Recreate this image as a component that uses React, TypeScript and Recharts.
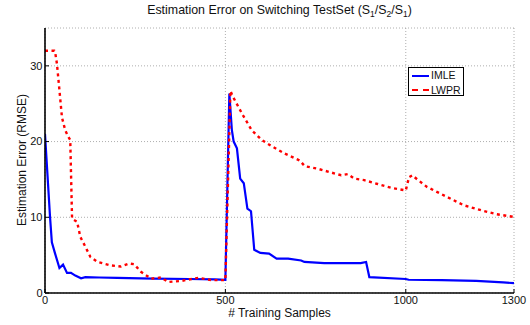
import React from 'react';
import { LineChart, Line, XAxis, YAxis, CartesianGrid } from 'recharts';

const imleX = [0, 14, 19, 28, 40, 50, 61, 72, 84, 100, 112, 150, 200, 300, 400, 470, 500, 511, 518, 523, 532, 541, 551, 561, 571, 580, 597, 621, 642, 674, 710, 719, 774, 875, 890, 899, 1000, 1008, 1100, 1195, 1270, 1300];
const imleY = [21, 10, 6.7, 5.2, 3.3, 3.75, 2.65, 2.65, 2.3, 1.95, 2.1, 2.05, 2.0, 1.9, 1.85, 1.8, 1.75, 26.35, 21.5, 20, 19.1, 15.1, 14.5, 11.15, 10.8, 5.7, 5.3, 5.2, 4.55, 4.55, 4.3, 4.1, 3.95, 3.95, 4.1, 2.1, 1.85, 1.75, 1.7, 1.6, 1.4, 1.3];

const lwprX = [0, 26, 28, 33, 40, 47, 56, 65, 70, 75, 89, 98, 112, 126, 146, 182, 210, 233, 247, 266, 294, 322, 342, 378, 425, 462, 500, 514, 520, 546, 573, 601, 628, 665, 706, 720, 757, 794, 821, 839, 858, 885, 922, 959, 1000, 1009, 1018, 1032, 1059, 1114, 1160, 1215, 1252, 1300];
const lwprY = [32, 32, 31.85, 30.3, 26.8, 23.2, 21.5, 20.6, 20.2, 9.8, 9.4, 7.4, 6.1, 4.75, 4.1, 3.65, 3.5, 3.9, 3.8, 2.8, 1.9, 2.05, 1.45, 1.6, 2.0, 1.7, 1.7, 26.7, 26.0, 23.7, 21.5, 20.2, 19.4, 18.4, 17.5, 16.75, 16.4, 15.9, 15.55, 15.7, 15.1, 14.9, 14.4, 13.9, 13.55, 15.3, 15.55, 15, 14, 12.7, 11.6, 10.85, 10.4, 10.05];

const xTicks = [0, 500, 1000, 1300];
const yTicks = [0, 10, 20, 30];

const titleMain = 'Estimation Error on Switching TestSet (S';
const xLabel = '# Training Samples';
const yLabel = 'Estimation Error (RMSE)';
const seriesNames = ['IMLE', 'LWPR'];

const imleData = imleX.map((x, i) => ({ x, y: imleY[i] }));
const lwprData = lwprX.map((x, i) => ({ x, y: lwprY[i] }));

const FONT = '"Liberation Sans", Arial, Helvetica, sans-serif';

export default function App() {
  return (
    <div style={{ position: 'absolute', left: 0, top: 0, width: 530, height: 325, background: '#fff', fontFamily: FONT }}>
      <LineChart width={530} height={325} data={imleData} margin={{ top: 28, right: 16, bottom: 0, left: 0 }}>
        <CartesianGrid stroke="#999" strokeWidth={0.8} strokeDasharray="1 2" />
        <XAxis
          type="number"
          dataKey="x"
          domain={[0, 1300]}
          ticks={xTicks}
          height={32}
          tickSize={-4}
          tickMargin={7}
          axisLine={{ stroke: '#000', strokeWidth: 1.6 }}
          tickLine={{ stroke: '#000' }}
          tick={{ fill: '#111', fontSize: 11, fontFamily: FONT }}
          allowDataOverflow
        />
        <XAxis
          xAxisId="top"
          orientation="top"
          type="number"
          dataKey="x"
          domain={[0, 1300]}
          ticks={xTicks}
          height={0}
          tickSize={-4}
          tickFormatter={() => ''}
          axisLine={{ stroke: '#000', strokeWidth: 1.6 }}
          tickLine={{ stroke: '#000' }}
          allowDataOverflow
        />
        <YAxis
          type="number"
          domain={[0, 35]}
          ticks={yTicks}
          width={45}
          tickSize={-4}
          tickMargin={6.5}
          axisLine={{ stroke: '#000', strokeWidth: 1.6 }}
          tickLine={{ stroke: '#000' }}
          tick={{ fill: '#111', fontSize: 11, fontFamily: FONT }}
          allowDataOverflow
        />
        <YAxis
          yAxisId="right"
          orientation="right"
          type="number"
          domain={[0, 35]}
          ticks={yTicks}
          width={0}
          tickSize={-4}
          tickFormatter={() => ''}
          axisLine={{ stroke: '#000', strokeWidth: 1.6 }}
          tickLine={{ stroke: '#000' }}
          allowDataOverflow
        />
        <Line
          data={imleData}
          dataKey="y"
          type="linear"
          stroke="#0000ff"
          strokeWidth={2.2}
          dot={false}
          isAnimationActive={false}
          name={seriesNames[0]}
        />
        <Line
          data={lwprData}
          dataKey="y"
          type="linear"
          stroke="#ff0000"
          strokeWidth={2.4}
          strokeDasharray="3 3.5"
          dot={false}
          isAnimationActive={false}
          name={seriesNames[1]}
        />
      </LineChart>

      <div style={{ position: 'absolute', left: 45, width: 469, top: 2.5, textAlign: 'center', fontSize: 12.4, color: '#111', whiteSpace: 'nowrap' }}>
        {titleMain}
        <sub style={{ fontSize: 8.5 }}>1</sub>/S<sub style={{ fontSize: 8.5 }}>2</sub>/S<sub style={{ fontSize: 8.5 }}>1</sub>)
      </div>

      <div style={{ position: 'absolute', left: 45, width: 469, top: 306, textAlign: 'center', fontSize: 12, color: '#111', whiteSpace: 'nowrap' }}>
        {xLabel}
      </div>

      <div style={{ position: 'absolute', left: 22, top: 160.5, width: 0, height: 0 }}>
        <div style={{ position: 'absolute', left: -100, top: -8, width: 200, textAlign: 'center', fontSize: 12, color: '#111', whiteSpace: 'nowrap', transform: 'rotate(-90deg)' }}>
          {yLabel}
        </div>
      </div>

      <div style={{ position: 'absolute', left: 408, top: 66.5, width: 56, height: 29.5, border: '1.3px solid #000', background: '#fff', boxSizing: 'border-box', fontSize: 10.5, color: '#111' }}>
        <div style={{ position: 'absolute', left: 3, top: 7, width: 17, borderTop: '2px solid #0000ff' }} />
        <div style={{ position: 'absolute', left: 22, top: 1.5, lineHeight: '12px' }}>{seriesNames[0]}</div>
        <div style={{ position: 'absolute', left: 3, top: 21.5, width: 17, borderTop: '2px dashed #ff0000' }} />
        <div style={{ position: 'absolute', left: 22, top: 16, lineHeight: '12px' }}>{seriesNames[1]}</div>
      </div>
    </div>
  );
}
